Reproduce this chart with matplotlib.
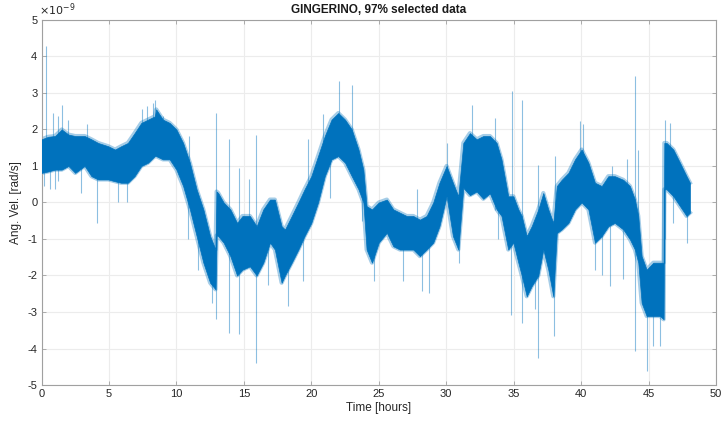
import matplotlib
matplotlib.use("Agg")
import matplotlib.pyplot as plt

plt.rcParams['font.family'] = ['Liberation Sans', 'DejaVu Sans']
plt.rcParams['axes.unicode_minus'] = False

# Envelope of the dense band (time in hours, angular velocity in 1e-9 rad/s)
t_band = [0.0, 0.5, 1.0, 1.5, 2.0, 2.5, 3.2, 3.7, 4.2, 4.95, 5.45, 5.9, 6.4, 6.9, 7.4, 7.9, 8.4,
          8.5, 9.0, 9.5, 10.0, 10.5, 11.0, 11.5, 12.0, 12.5, 12.9, 12.98, 13.1, 13.5, 14.0, 14.5,
          14.9, 15.45, 15.95, 16.44, 16.94, 17.3, 17.8, 18.05, 18.55, 19.04, 19.5, 20.0, 20.5,
          21.0, 21.5, 22.0, 22.5, 23.0, 23.5, 23.86, 24.1, 24.5, 25.0, 25.6, 26.08, 26.57, 27.07,
          27.56, 28.05, 28.55, 29.04, 29.5, 30.03, 30.5, 30.9, 31.27, 31.76, 32.26, 32.75, 33.24,
          33.74, 34.1, 34.6, 34.98, 35.35, 35.6, 35.97, 36.34, 36.83, 37.2, 37.57, 37.94, 38.2,
          38.56, 39.06, 39.55, 40.04, 40.54, 41.03, 41.53, 42.02, 42.5, 43.13, 43.62, 43.99,
          44.24, 44.49, 44.86, 45.35, 45.85, 46.12, 46.17, 46.34, 46.84, 47.33, 47.82, 48.07]
band_hi = [1.73, 1.8, 1.82, 2.0, 1.86, 1.82, 1.82, 1.73, 1.63, 1.54, 1.45, 1.54, 1.63, 1.9, 2.18, 2.27, 2.36,
           2.55, 2.27, 2.18, 2.0, 1.63, 1.09, 0.36, -0.19, -0.92, -1.29, 0.3, 0.26, 0.0, -0.19, -0.56,
           -0.37, -0.37, -0.65, -0.19, 0.08, 0.08, -0.65, -0.74, -0.37, 0.0, 0.36, 0.72, 1.27,
           1.82, 2.27, 2.45, 2.27, 2.0, 1.45, 0.9, -0.1, -0.19, 0.0, 0.08, -0.19, -0.28, -0.37,
           -0.37, -0.47, -0.37, 0.0, 0.54, 1.0, 0.54, 0.17, 1.63, 1.9, 1.73, 1.82, 1.82,
           1.63, 1.18, 0.17, 0.17, -0.19, -0.37, -0.92, -0.65, -0.19, 0.26, -0.19, -0.56, 0.45,
           0.62, 0.81, 1.18, 1.45, 1.09, 0.54, 0.45, 0.72, 0.72, 0.62, 0.45, 0.08,
           -0.37, -1.47, -1.84, -1.65, -1.65, -1.65, 1.63, 1.63, 1.45, 1.09, 0.72, 0.54]
band_lo = [0.81, 0.85, 0.9, 0.9, 1.0, 0.81, 1.0, 0.72, 0.63, 0.63, 0.58, 0.54, 0.54, 0.72, 1.0, 1.09, 1.27,
           1.27, 1.18, 1.18, 0.9, 0.45, -0.19, -0.92, -1.65, -2.2, -2.38, -0.9, -0.92, -1.1, -1.47, -2.0,
           -1.84, -1.75, -2.0, -1.65, -1.1, -1.29, -2.2, -2.0, -1.65, -1.29, -0.92, -0.56, 0.0,
           0.72, 1.18, 1.27, 1.09, 0.72, 0.36, 0.0, -1.29, -1.65, -1.1, -0.83, -1.2, -1.29, -1.29,
           -1.29, -1.47, -1.29, -1.1, -0.65, 0.17, -0.92, -1.29, 0.4, 0.2, 0.3, 0.1, 0.25,
           -0.19, -0.37, -1.29, -1.1, -1.65, -2.0, -2.57, -2.29, -2.0, -1.29, -1.84, -2.57, -0.84,
           -0.74, -0.56, -0.19, 0.0, -0.19, -1.1, -0.92, -0.65, -0.56, -0.74, -1.01, -1.29,
           -1.65, -2.75, -3.11, -3.11, -3.11, -3.2, 0.36, 0.36, 0.17, -0.1, -0.37, -0.28]

# Isolated spikes: time, lowest and highest value
spike_t = [0.2, 0.31, 0.63, 0.88, 1.0, 1.25, 1.5, 1.99, 2.9, 3.35, 4.14, 5.7, 6.31, 7.42, 7.8, 8.29,
           8.41, 9.03, 10.88, 10.96, 11.57, 12.61, 12.97, 13.87, 14.66, 15.4, 15.92, 16.81, 18.3,
           19.41, 19.78, 20.89, 21.39, 22.08, 23.0, 23.74, 24.67, 26.77, 27.81, 28.18, 28.72,
           30.03, 30.95, 31.93, 33.62, 33.86, 34.78, 34.9, 35.6, 36.58, 36.83, 38.02, 38.07,
           39.92, 40.17, 41.03, 41.53, 42.14, 42.27, 43.13, 43.38, 44.02, 44.24, 44.91, 45.35,
           45.85, 46.22, 46.59, 46.84, 47.82]
spike_lo = [0.45, 0.9, 0.36, 1.5, 0.36, 0.6, 1.6, 1.3, 0.26, 1.2, -0.56, 0.0, 0.0, 1.4, 1.5, 1.5,
            1.5, 1.3, -1.01, 0.5, -1.84, -2.75, -3.2, -3.57, -3.6, -1.5, -4.39, -2.25, -2.84,
            -2.15, -0.5, 0.8, 0.13, 1.5, 1.2, -0.51, -2.15, -2.15, -0.9, -2.43, -2.47,
            0.2, -1.65, 0.5, -0.2, -1.01, -3.07, -0.5, -3.3, -2.93, -4.26, -3.66, -0.5,
            0.0, 0.0, -1.84, -2.0, -2.29, -0.3, -2.1, -0.3, -4.07, -1.2, -4.62, -3.94,
            -3.94, -1.0, 0.5, -0.56, -1.1]
spike_hi = [1.2, 4.28, 1.0, 2.45, 1.5, 2.36, 2.68, 2.27, 1.2, 2.14, 0.8, 0.8, 0.8, 2.55, 2.64, 2.73,
            2.82, 2.36, 0.5, 1.82, -0.5, -1.8, 2.45, 1.73, 0.95, 0.63, 1.86, -1.0, -1.5,
            -1.0, 1.73, 2.41, 1.4, 3.32, 3.23, 0.6, -1.0, -0.9, 0.36, -1.2, -1.2,
            1.63, -0.5, 2.68, 2.32, 0.2, -1.0, 3.05, 2.82, -1.8, 1.04, -2.0, 1.27,
            2.23, 2.14, -0.5, -0.5, -0.5, 1.0, -0.5, 1.18, 3.46, 1.45, -2.8, -2.8,
            -2.8, 2.27, 2.18, 0.8, 0.2]

x_ticks = list(range(0, 51, 5))
y_ticks = list(range(-5, 6))

blue = '#0072BD'
fig = plt.figure(figsize=(7.23, 4.26), dpi=100)
ax = fig.add_axes([0.0574, 0.0962, 0.9329, 0.857])

ax.vlines(spike_t, spike_lo, spike_hi, color=blue, alpha=0.45, linewidth=0.8, zorder=2)
# soft fringe around the dense band
ax.plot(t_band, band_hi, color=blue, alpha=0.35, linewidth=3.0, zorder=2)
ax.plot(t_band, band_lo, color=blue, alpha=0.35, linewidth=3.0, zorder=2)
ax.fill_between(t_band, band_lo, band_hi, color=blue, linewidth=0.5, edgecolor=blue, zorder=3)

ax.set_xlim(0, 50)
ax.set_ylim(-5, 5)
ax.set_xticks(x_ticks)
ax.set_yticks(y_ticks)
ax.grid(True, color='#ececec', linewidth=0.8, zorder=0)
ax.set_axisbelow(True)
for s in ax.spines.values():
    s.set_color('#a0a0a0')
    s.set_linewidth(0.8)
ax.tick_params(direction='in', length=3, width=0.6, color='#a0a0a0', labelcolor='#262626',
               labelsize=8, top=True, right=True, pad=3)

ax.set_title('GINGERINO, 97% selected data', fontsize=8.5, fontweight='bold', color='#1a1a1a', pad=5)
ax.set_xlabel('Time [hours]', fontsize=8.5, color='#262626', labelpad=2)
ax.set_ylabel('Ang. Vel. [rad/s]', fontsize=8.5, color='#262626', labelpad=4)
ax.text(-0.004, 1.005, r'$\times10^{-9}$', transform=ax.transAxes, fontsize=8, color='#262626',
        ha='left', va='bottom')

fig.savefig('out.png', dpi=100)
